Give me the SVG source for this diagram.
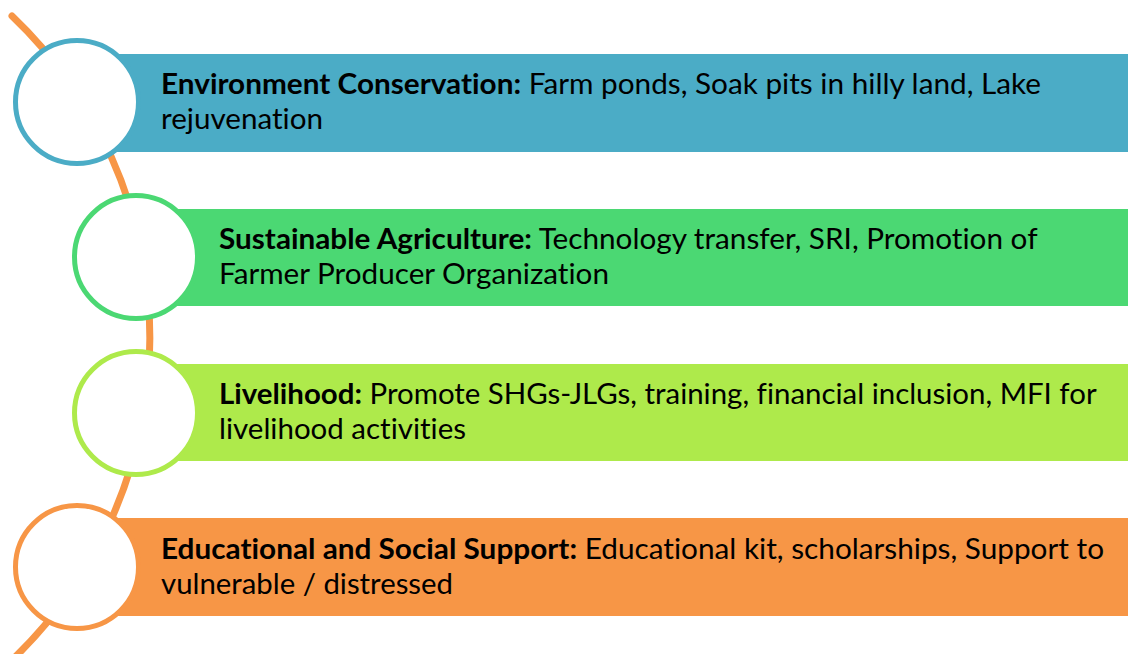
<svg xmlns="http://www.w3.org/2000/svg" width="1128" height="654" viewBox="0 0 1128 654">
  <style>
    .bar-text { font-family: Lato, "Noto Sans", "Liberation Sans", sans-serif; font-size: 28px; fill: #000; font-variant-ligatures: none; font-feature-settings: "liga" 0, "clig" 0; }
    .bar-text .head { font-weight: bold; }
    .ring { fill: #fff; stroke-width: 5; }
    .spine { fill: none; stroke: #F79646; stroke-width: 7; stroke-linecap: round; }
  </style>

  <rect width="1128" height="654" fill="#fff"/>

  <!-- curved spine running behind the rings -->
  <g id="connectors">
    <path class="spine" d="M 12 16 A 445 445 0 0 1 12 660"/>
  </g>

  <g id="node-environment">
    <rect x="100" y="54" width="1028" height="98" fill="#4BACC6"/>
    <circle class="ring" cx="77" cy="102" r="61.5" stroke="#4BACC6"/>
    <text class="bar-text">
      <tspan x="161" y="94" textLength="880" lengthAdjust="spacingAndGlyphs"><tspan class="head">Environment Conservation:</tspan> Farm ponds, Soak pits in hilly land, Lake</tspan>
      <tspan x="161" y="129" textLength="162" lengthAdjust="spacingAndGlyphs">rejuvenation</tspan>
    </text>
  </g>

  <g id="node-agriculture">
    <rect x="160" y="209" width="968" height="97" fill="#4BD873"/>
    <circle class="ring" cx="136" cy="257" r="61.5" stroke="#4BD873"/>
    <text class="bar-text">
      <tspan x="219" y="249" textLength="818" lengthAdjust="spacingAndGlyphs"><tspan class="head">Sustainable Agriculture:</tspan> Technology transfer, SRI, Promotion of</tspan>
      <tspan x="219" y="284" textLength="390" lengthAdjust="spacingAndGlyphs">Farmer Producer Organization</tspan>
    </text>
  </g>

  <g id="node-livelihood">
    <rect x="160" y="364" width="968" height="97" fill="#AEEA4B"/>
    <circle class="ring" cx="136" cy="413" r="61.5" stroke="#AEEA4B"/>
    <text class="bar-text">
      <tspan x="219" y="404" textLength="877" lengthAdjust="spacingAndGlyphs"><tspan class="head">Livelihood:</tspan> Promote SHGs-JLGs, training, financial inclusion, MFI for</tspan>
      <tspan x="219" y="439" textLength="247" lengthAdjust="spacingAndGlyphs">livelihood activities</tspan>
    </text>
  </g>

  <g id="node-education">
    <rect x="100" y="518" width="1028" height="98" fill="#F79646"/>
    <circle class="ring" cx="77" cy="567" r="61.5" stroke="#F79646"/>
    <text class="bar-text">
      <tspan x="161" y="559" textLength="943" lengthAdjust="spacingAndGlyphs"><tspan class="head">Educational and Social Support:</tspan> Educational kit, scholarships, Support to</tspan>
      <tspan x="161" y="594" textLength="292" lengthAdjust="spacingAndGlyphs">vulnerable / distressed</tspan>
    </text>
  </g>
</svg>
